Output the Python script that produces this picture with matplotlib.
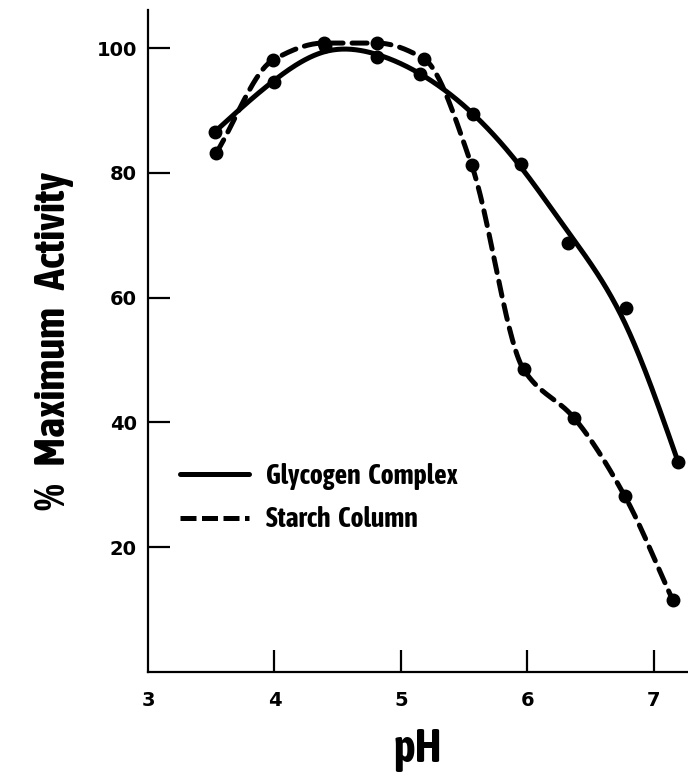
import numpy as np
import matplotlib
matplotlib.use("Agg")
import matplotlib.pyplot as plt
from matplotlib import font_manager as fm
from matplotlib.lines import Line2D

# data
ph_glycogen = [3.53, 4.00, 4.40, 4.81, 5.15, 5.57, 5.95, 6.32, 6.78, 7.19]
act_glycogen = [86.6, 94.5, 100.4, 98.6, 95.8, 89.5, 81.4, 68.7, 58.3, 33.7]
ph_starch = [3.54, 3.99, 4.39, 4.81, 5.18, 5.56, 5.97, 6.37, 6.77, 7.15]
act_starch = [83.2, 98.1, 100.8, 100.8, 98.3, 81.2, 48.5, 40.7, 28.2, 11.5]
series_labels = ["Glycogen  Complex", "Starch  Column"]
x_ticks = [3, 4, 5, 6, 7]
y_ticks = [20, 40, 60, 80, 100]


# look for a narrow / condensed bold face for the heavy labels
def find_condensed():
    best = None
    for f in fm.fontManager.ttflist:
        narrow = f.stretch in ("condensed", "semi-condensed", "extra-condensed", "ultra-condensed") \
            or "Narrow" in f.name or "Condensed" in f.name
        if not narrow:
            continue
        w = f.weight if isinstance(f.weight, int) else (700 if "bold" in str(f.weight).lower() else 400)
        if best is None or w > best[0]:
            best = (w, f.name, f.stretch)
    if best is None:
        return "DejaVu Sans", "normal"
    return best[1], best[2]


cond_family, cond_stretch = find_condensed()
heavy = dict(family=cond_family, stretch=cond_stretch, weight="bold")


# monotone cubic (Fritsch-Carlson) through the points
def pchip(x, y, n=300):
    x = np.asarray(x, float)
    y = np.asarray(y, float)
    h = np.diff(x)
    d = np.diff(y) / h
    m = np.empty_like(y)
    m[0], m[-1] = d[0], d[-1]
    for k in range(1, len(x) - 1):
        if d[k - 1] * d[k] <= 0:
            m[k] = 0.0
        else:
            w1 = 2 * h[k] + h[k - 1]
            w2 = h[k] + 2 * h[k - 1]
            m[k] = (w1 + w2) / (w1 / d[k - 1] + w2 / d[k])
    xs = np.linspace(x[0], x[-1], n)
    k = np.clip(np.searchsorted(x, xs) - 1, 0, len(x) - 2)
    t = (xs - x[k]) / h[k]
    h00 = 2 * t ** 3 - 3 * t ** 2 + 1
    h10 = t ** 3 - 2 * t ** 2 + t
    h01 = -2 * t ** 3 + 3 * t ** 2
    h11 = t ** 3 - t ** 2
    ys = h00 * y[k] + h10 * h[k] * m[k] + h01 * y[k + 1] + h11 * h[k] * m[k + 1]
    return xs, ys


# penalised smoothing curve (hand-drawn look), pinned at the ends
def smooth_fit(x, y, lam=8e-3, n=300):
    x = np.asarray(x, float)
    y = np.asarray(y, float)
    xs = np.linspace(x[0], x[-1], n)
    step = xs[1] - xs[0]
    A = np.zeros((len(x), n))
    for i, xi in enumerate(x):
        j = min(int((xi - xs[0]) / step), n - 2)
        f = (xi - xs[j]) / step
        A[i, j], A[i, j + 1] = 1 - f, f
    w = np.ones(len(x))
    w[0] = w[-1] = 20.0
    D = np.diff(np.eye(n), 2, axis=0) / step ** 2
    M = A.T @ (w[:, None] * A) + lam * step * D.T @ D
    ys = np.linalg.solve(M, A.T @ (w * y))
    return xs, ys


fig = plt.figure(figsize=(6.88, 7.75), dpi=100)
ax = fig.add_axes([148 / 688, 103 / 775, 540 / 688, 662 / 775])

lw = 3.6
gx, gy = smooth_fit(ph_glycogen, act_glycogen)
ax.plot(gx, gy, color="k", lw=lw, solid_capstyle="round")
ax.plot(ph_glycogen, act_glycogen, "o", color="k", ms=9)

sx, sy = pchip(ph_starch, act_starch)
ax.plot(sx, sy, color="k", lw=lw, dashes=(3.0, 1.8), dash_capstyle="round")
ax.plot(ph_starch, act_starch, "o", color="k", ms=9)

ax.set_xlim(3, 7.27)
ax.set_ylim(0, 106.1)
ax.spines["top"].set_visible(False)
ax.spines["right"].set_visible(False)
for s in ("left", "bottom"):
    ax.spines[s].set_linewidth(1.6)

ax.set_xticks(x_ticks)
ax.set_yticks(y_ticks)
ax.tick_params(axis="both", direction="in", length=16, width=1.6, labelsize=14)
ax.tick_params(axis="x", pad=14)
ax.tick_params(axis="y", pad=8)
for lab in ax.get_xticklabels() + ax.get_yticklabels():
    lab.set_fontweight("bold")
# no tick mark at pH 3 (sits on the spine)
ax.xaxis.get_major_ticks()[0].tick1line.set_visible(False)

ax.set_xlabel("pH", fontsize=33, labelpad=11, **heavy)
ax.set_ylabel("%   Maximum   Activity", fontsize=31, labelpad=16, **heavy)

handles = [Line2D([], [], color="k", lw=lw, solid_capstyle="round"),
           Line2D([], [], color="k", lw=lw, dashes=(3.2, 1.1), dash_capstyle="butt")]
leg = ax.legend(handles, series_labels, loc="upper left", bbox_to_anchor=(0.059, 0.316),
                frameon=False, handlelength=2.5, handletextpad=0.6, labelspacing=0.6,
                borderpad=0, borderaxespad=0,
                prop=fm.FontProperties(family=cond_family, stretch=cond_stretch, weight="bold", size=20))

fig.savefig("out.png", dpi=100)
